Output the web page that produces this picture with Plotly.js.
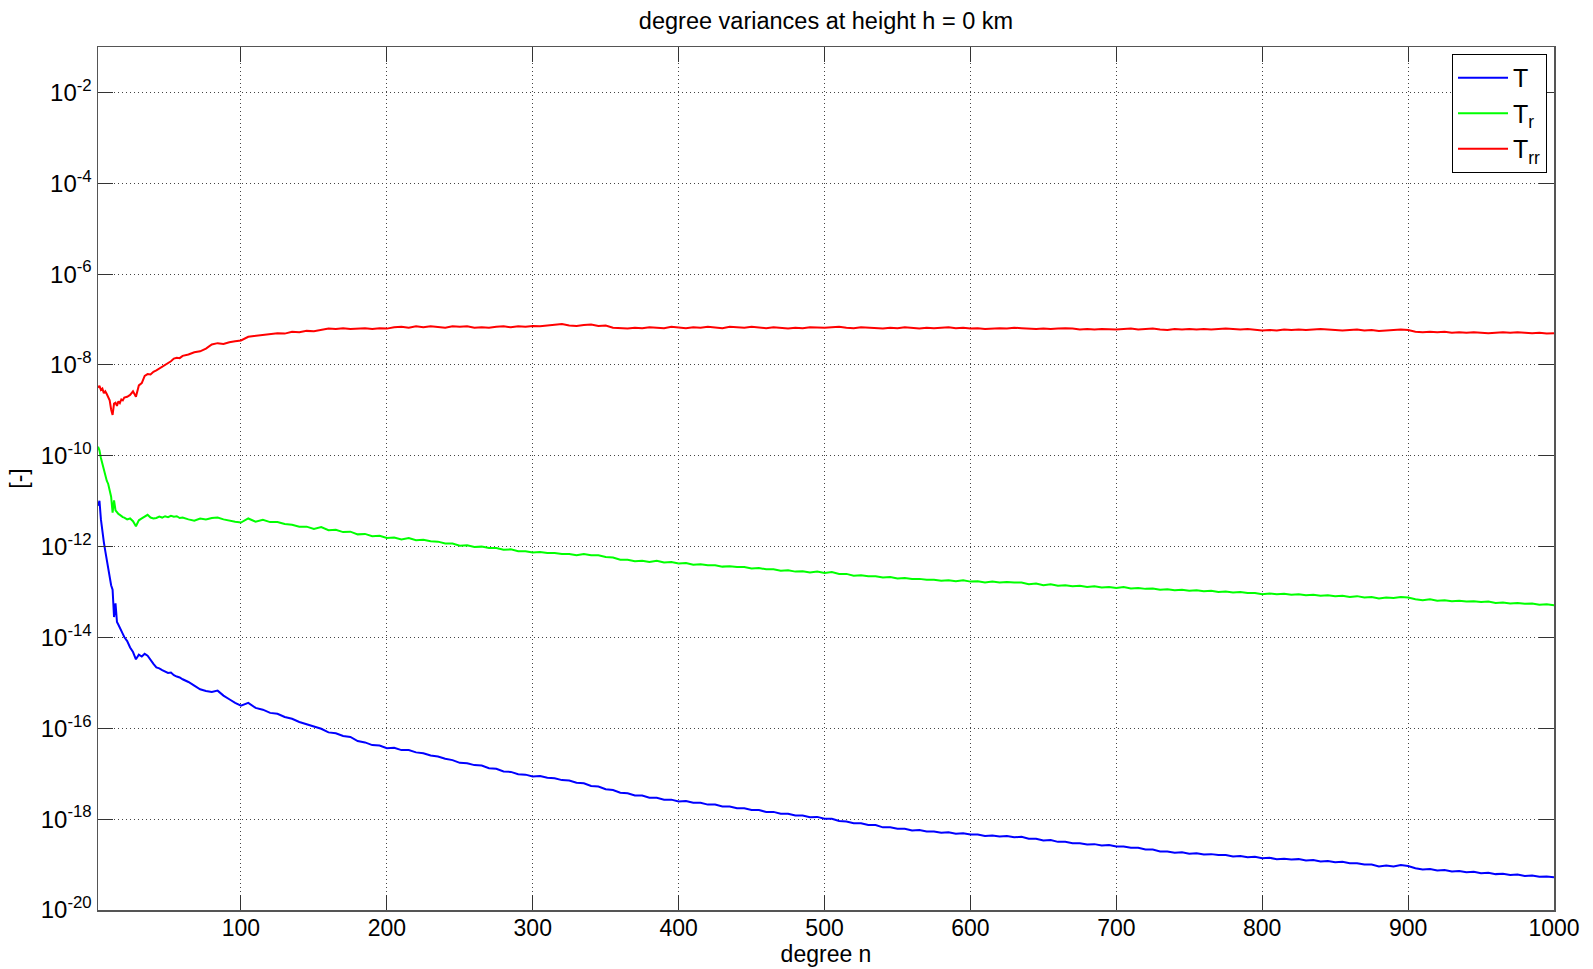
<!DOCTYPE html>
<html>
<head>
<meta charset="utf-8">
<script src="https://cdn.plot.ly/plotly-3.0.1.min.js"></script>
<style>html,body{margin:0;padding:0;background:#fff;}#chart{width:1593px;height:969px;}</style>
</head>
<body>
<div id="chart"></div>
<script>
// spherical harmonic degree n
const degrees = [2,3,4,5,6,7,8,9,10,11,12,13,14,15,16,17,18,19,20,
22,24,26,28,30,32,34,36,38,40,42,44,46,48,50,52,54,56,58,60,
64,68,72,76,80,84,88,92,96,100,
105,110,115,120,125,130,135,140,145,150,155,160,165,170,175,180,185,190,195,200,
205,210,215,220,225,230,235,240,245,250,255,260,265,270,275,280,285,290,295,300,
305,310,315,320,325,330,335,340,345,350,355,360,365,370,375,380,385,390,395,400,
405,410,415,420,425,430,435,440,445,450,455,460,465,470,475,480,485,490,495,500,
505,510,515,520,525,530,535,540,545,550,555,560,565,570,575,580,585,590,595,600,
605,610,615,620,625,630,635,640,645,650,655,660,665,670,675,680,685,690,695,700,
705,710,715,720,725,730,735,740,745,750,755,760,765,770,775,780,785,790,795,800,
805,810,815,820,825,830,835,840,845,850,855,860,865,870,875,880,885,890,895,900,
905,910,915,920,925,930,935,940,945,950,955,960,965,970,975,980,985,990,995,1000];

// log10 of degree variances
const log10_T = [-11.10,-10.99,-11.40,-11.70,-11.90,-12.10,-12.28,-12.50,-12.70,-12.85,-12.95,-13.55,-13.25,-13.66,-13.72,-13.80,-13.86,-13.92,-13.99,
-14.08,-14.22,-14.32,-14.48,-14.38,-14.42,-14.36,-14.40,-14.50,-14.58,-14.66,-14.68,-14.72,-14.75,-14.78,-14.77,-14.83,-14.86,-14.88,-14.92,
-14.98,-15.06,-15.14,-15.18,-15.20,-15.17,-15.28,-15.36,-15.44,-15.50,
-15.44,-15.55,-15.59,-15.66,-15.68,-15.75,-15.79,-15.86,-15.91,-15.97,-16.01,-16.09,-16.11,-16.17,-16.19,-16.28,-16.31,-16.37,-16.38,-16.44,
-16.43,-16.48,-16.48,-16.53,-16.55,-16.60,-16.62,-16.67,-16.70,-16.76,-16.77,-16.81,-16.82,-16.88,-16.89,-16.95,-16.96,-17.01,-17.02,-17.06,
-17.05,-17.09,-17.10,-17.14,-17.15,-17.20,-17.21,-17.27,-17.28,-17.34,-17.36,-17.42,-17.43,-17.48,-17.48,-17.53,-17.53,-17.57,-17.57,-17.61,
-17.60,-17.64,-17.64,-17.68,-17.68,-17.72,-17.72,-17.76,-17.76,-17.80,-17.80,-17.84,-17.84,-17.88,-17.88,-17.92,-17.92,-17.96,-17.95,-17.99,
-17.99,-18.04,-18.05,-18.09,-18.09,-18.13,-18.13,-18.18,-18.18,-18.21,-18.21,-18.25,-18.24,-18.27,-18.27,-18.30,-18.29,-18.32,-18.31,-18.34,
-18.34,-18.37,-18.36,-18.38,-18.37,-18.40,-18.39,-18.43,-18.43,-18.47,-18.46,-18.50,-18.50,-18.53,-18.53,-18.56,-18.55,-18.58,-18.57,-18.60,
-18.60,-18.63,-18.63,-18.67,-18.67,-18.71,-18.71,-18.74,-18.73,-18.76,-18.75,-18.78,-18.77,-18.79,-18.79,-18.82,-18.81,-18.84,-18.83,-18.86,
-18.85,-18.88,-18.87,-18.89,-18.88,-18.91,-18.90,-18.93,-18.92,-18.95,-18.94,-18.97,-18.97,-19.00,-19.00,-19.04,-19.02,-19.04,-19.01,-19.03,
-19.08,-19.11,-19.10,-19.13,-19.12,-19.15,-19.14,-19.17,-19.16,-19.19,-19.18,-19.21,-19.20,-19.23,-19.22,-19.25,-19.24,-19.27,-19.26,-19.28];

const log10_Tr = [-9.80,-9.88,-10.05,-10.18,-10.30,-10.42,-10.55,-10.62,-10.75,-10.90,-11.25,-10.98,-11.20,-11.25,-11.28,-11.30,-11.33,-11.35,-11.36,
-11.40,-11.38,-11.44,-11.55,-11.42,-11.38,-11.33,-11.30,-11.36,-11.38,-11.37,-11.34,-11.36,-11.33,-11.35,-11.32,-11.34,-11.33,-11.37,-11.36,
-11.40,-11.43,-11.38,-11.40,-11.37,-11.36,-11.40,-11.43,-11.45,-11.47,
-11.38,-11.45,-11.41,-11.46,-11.46,-11.50,-11.52,-11.56,-11.56,-11.61,-11.57,-11.64,-11.63,-11.68,-11.67,-11.73,-11.72,-11.77,-11.76,-11.81,
-11.80,-11.84,-11.81,-11.86,-11.85,-11.88,-11.89,-11.93,-11.93,-11.98,-11.97,-12.01,-12.00,-12.03,-12.03,-12.07,-12.06,-12.10,-12.10,-12.13,
-12.12,-12.14,-12.14,-12.16,-12.16,-12.19,-12.16,-12.19,-12.19,-12.23,-12.24,-12.29,-12.29,-12.32,-12.31,-12.34,-12.31,-12.35,-12.34,-12.37,
-12.36,-12.40,-12.39,-12.41,-12.41,-12.44,-12.43,-12.45,-12.45,-12.48,-12.47,-12.50,-12.50,-12.53,-12.52,-12.55,-12.54,-12.57,-12.55,-12.58,
-12.56,-12.60,-12.60,-12.64,-12.63,-12.65,-12.65,-12.68,-12.67,-12.70,-12.69,-12.71,-12.71,-12.73,-12.73,-12.75,-12.74,-12.76,-12.74,-12.77,
-12.76,-12.79,-12.77,-12.79,-12.78,-12.79,-12.79,-12.83,-12.81,-12.85,-12.83,-12.86,-12.85,-12.87,-12.86,-12.89,-12.87,-12.90,-12.89,-12.91,
-12.89,-12.92,-12.91,-12.93,-12.92,-12.95,-12.94,-12.96,-12.95,-12.97,-12.96,-12.98,-12.97,-13.00,-12.99,-13.01,-13.00,-13.02,-13.02,-13.05,
-13.03,-13.05,-13.04,-13.06,-13.05,-13.07,-13.06,-13.08,-13.07,-13.09,-13.08,-13.11,-13.09,-13.12,-13.11,-13.14,-13.12,-13.13,-13.11,-13.12,
-13.16,-13.18,-13.16,-13.19,-13.18,-13.20,-13.19,-13.21,-13.20,-13.22,-13.21,-13.24,-13.23,-13.25,-13.24,-13.26,-13.25,-13.28,-13.27,-13.29];

const log10_Trr = [-8.50,-8.46,-8.55,-8.52,-8.62,-8.58,-8.64,-8.70,-8.78,-8.98,-9.10,-8.85,-8.83,-8.90,-8.80,-8.84,-8.76,-8.78,-8.72,
-8.70,-8.66,-8.58,-8.70,-8.45,-8.40,-8.24,-8.20,-8.21,-8.15,-8.12,-8.08,-8.05,-8.00,-7.96,-7.92,-7.86,-7.84,-7.85,-7.80,
-7.77,-7.72,-7.70,-7.64,-7.55,-7.52,-7.54,-7.50,-7.48,-7.46,
-7.38,-7.36,-7.33,-7.32,-7.30,-7.31,-7.27,-7.28,-7.25,-7.26,-7.23,-7.20,-7.21,-7.19,-7.21,-7.20,-7.19,-7.21,-7.19,-7.20,
-7.17,-7.16,-7.18,-7.15,-7.17,-7.15,-7.16,-7.18,-7.15,-7.16,-7.15,-7.18,-7.17,-7.18,-7.16,-7.15,-7.17,-7.15,-7.16,-7.14,
-7.15,-7.13,-7.12,-7.10,-7.13,-7.14,-7.12,-7.11,-7.14,-7.13,-7.18,-7.19,-7.20,-7.18,-7.19,-7.17,-7.18,-7.19,-7.16,-7.17,
-7.19,-7.17,-7.18,-7.16,-7.17,-7.19,-7.16,-7.17,-7.18,-7.16,-7.18,-7.19,-7.17,-7.18,-7.20,-7.18,-7.19,-7.17,-7.18,-7.18,
-7.17,-7.16,-7.18,-7.19,-7.17,-7.18,-7.19,-7.20,-7.18,-7.19,-7.17,-7.18,-7.20,-7.18,-7.19,-7.18,-7.17,-7.19,-7.18,-7.20,
-7.19,-7.21,-7.20,-7.19,-7.20,-7.18,-7.19,-7.20,-7.21,-7.20,-7.21,-7.20,-7.19,-7.20,-7.22,-7.21,-7.22,-7.21,-7.22,-7.22,
-7.21,-7.20,-7.22,-7.21,-7.20,-7.22,-7.23,-7.21,-7.22,-7.21,-7.22,-7.21,-7.22,-7.21,-7.20,-7.21,-7.22,-7.21,-7.22,-7.24,
-7.23,-7.24,-7.22,-7.23,-7.22,-7.23,-7.22,-7.21,-7.22,-7.23,-7.24,-7.23,-7.22,-7.24,-7.23,-7.25,-7.24,-7.23,-7.22,-7.23,
-7.27,-7.28,-7.27,-7.28,-7.27,-7.29,-7.28,-7.29,-7.28,-7.29,-7.30,-7.29,-7.28,-7.29,-7.28,-7.29,-7.30,-7.29,-7.31,-7.30];

const seriesNames = ['T', 'T<sub>r</sub>', 'T<sub>rr</sub>'];
const seriesColors = ['#0000ff', '#00ff00', '#ff0000'];
const xTickVals = [100,200,300,400,500,600,700,800,900,1000];
const yTickExps = [-20,-18,-16,-14,-12,-10,-8,-6,-4,-2];

const toVal = arr => arr.map(e => Math.pow(10, e));
const seriesLogs = [log10_T, log10_Tr, log10_Trr];

const traces = seriesLogs.map((s, i) => ({
  x: degrees, y: toVal(s), type: 'scatter', mode: 'lines',
  name: seriesNames[i], line: {color: seriesColors[i], width: 2}
}));

// minor tick positions for the right-hand log axis
const minorVals = [];
for (let k = -20; k < -1; k++) { for (let m = 1; m <= 9; m++) minorVals.push(m * Math.pow(10, k)); }

const fam = 'Liberation Sans, Arial, sans-serif';
const font = {family: fam, size: 23, color: '#000'};
const tickFont = {family: fam, size: 24, color: '#000'};
const layout = {
  width: 1593, height: 969,
  margin: {l: 98, r: 39, t: 47, b: 59},
  paper_bgcolor: '#fff', plot_bgcolor: '#fff',
  font: font,
  showlegend: true,
  title: {text: 'degree variances at height h = 0 km', font: {family: fam, size: 23.5, color: '#000'}, x: 0.5, xref: 'paper', y: 1 - 21/969, yref: 'container', yanchor: 'middle'},
  xaxis: {
    type: 'linear', range: [2, 1000], tickvals: xTickVals, ticktext: xTickVals.map(String),
    ticks: 'inside', ticklen: 15, tickcolor: '#333', tickwidth: 1,
    showline: true, linecolor: '#555', linewidth: 1.5, mirror: 'ticks',
    showgrid: true, gridcolor: '#444', griddash: '1px,3px', gridwidth: 1,
    zeroline: false, tickfont: font, ticklabelstandoff: -3,
    title: {text: 'degree n', font: font, standoff: 2}
  },
  yaxis: {
    type: 'log', range: [-20, -1],
    tickvals: yTickExps.map(e => Math.pow(10, e)),
    ticktext: yTickExps.map(e => '10<sup>' + e + '</sup>'),
    ticks: 'inside', ticklen: 15, tickcolor: '#333', tickwidth: 1,
    showline: true, linecolor: '#555', linewidth: 1.5, mirror: 'ticks',
    showgrid: true, gridcolor: '#444', griddash: '1px,3px', gridwidth: 1,
    zeroline: false, tickfont: tickFont,
    title: {text: '[-]', font: font, standoff: 6}
  },
  yaxis2: {
    type: 'log', range: [-20, -1], overlaying: 'y', side: 'right', anchor: 'x',
    tickvals: minorVals, ticks: 'inside', ticklen: 4, tickcolor: '#333',
    showticklabels: false, showgrid: false, showline: false, zeroline: false
  },
  legend: {
    x: 0.9952, xanchor: 'right', y: 0.992, yanchor: 'top',
    bgcolor: '#fff', bordercolor: '#000', borderwidth: 1,
    itemwidth: 50,
    font: {family: fam, size: 25, color: '#000'}, tracegroupgap: 0
  }
};

Plotly.newPlot('chart', traces, layout, {displayModeBar: false, staticPlot: true});
</script>
</body>
</html>
